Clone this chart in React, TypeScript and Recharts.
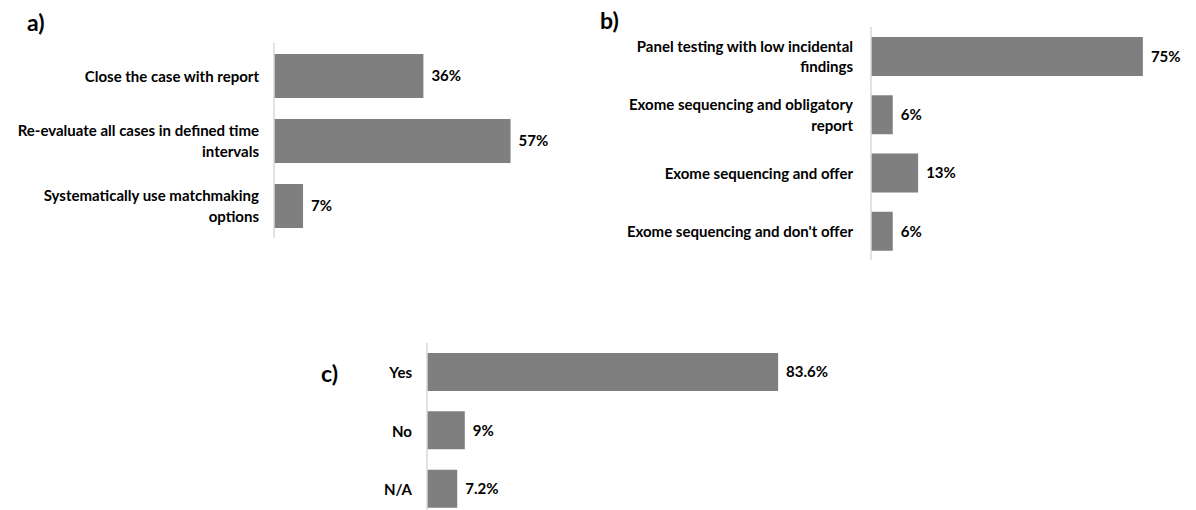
import React from "react";
import { BarChart, Bar, XAxis, YAxis, LabelList } from "recharts";

// Panel a) – what to do with unsolved cases
const aCategories = [
  "Close the case with report",
  "Re-evaluate all cases in defined time\nintervals",
  "Systematically use matchmaking\noptions",
];
const aValues = [36, 57, 7];

// Panel b) – preferred testing strategy
const bCategories = [
  "Panel testing with low incidental\nfindings",
  "Exome sequencing and obligatory\nreport",
  "Exome sequencing and offer",
  "Exome sequencing and don't offer",
];
const bValues = [75, 6, 13, 6];

// Panel c)
const cCategories = ["Yes", "No", "N/A"];
const cValues = [83.6, 9, 7.2];

const FONT = "Lato, 'Open Sans', sans-serif";
const BAR = "#7f7f7f";
const AXIS = "#d9d9d9";

function WrapTick(props: any) {
  const { x, y, payload } = props;
  const lines = String(payload.value).split("\n");
  const lh = 20.5;
  const start = (-(lines.length - 1) * lh) / 2;
  return (
    <text
      x={x}
      y={y}
      textAnchor="end"
      dominantBaseline="central"
      fill="#000"
      fontSize={15}
      fontWeight={700}
      fontFamily={FONT}
    >
      {lines.map((l, i) => (
        <tspan key={i} x={x} dy={i === 0 ? start : lh}>
          {l}
        </tspan>
      ))}
    </text>
  );
}

interface PanelProps {
  categories: string[];
  values: number[];
  left: number;
  top: number;
  width: number;
  height: number;
  axisWidth: number;
  margin: { top: number; right: number; bottom: number; left: number };
  domainMax: number;
  barSize: number;
  gap: number;
}

function Panel(p: PanelProps) {
  const data = p.categories.map((name, i) => ({ name, value: p.values[i] }));
  return (
    <div style={{ position: "absolute", left: p.left, top: p.top }}>
      <BarChart
        width={p.width}
        height={p.height}
        data={data}
        layout="vertical"
        margin={p.margin}
      >
        <XAxis type="number" hide domain={[0, p.domainMax]} />
        <YAxis
          type="category"
          dataKey="name"
          width={p.axisWidth}
          axisLine={{ stroke: AXIS, strokeWidth: 1.5 }}
          tickLine={false}
          tickSize={0}
          tickMargin={p.gap}
          tick={<WrapTick />}
          interval={0}
        />
        <Bar
          dataKey="value"
          fill={BAR}
          barSize={p.barSize}
          isAnimationActive={false}
        >
          <LabelList
            dataKey="value"
            position="right"
            offset={8}
            formatter={(v: any) => `${v}%`}
            style={{
              fill: "#000",
              fontSize: 15,
              fontWeight: 700,
              fontFamily: FONT,
            }}
          />
        </Bar>
      </BarChart>
    </div>
  );
}

const titleStyle: React.CSSProperties = {
  position: "absolute",
  fontFamily: FONT,
  fontSize: 23,
  fontWeight: 700,
  color: "#000",
  lineHeight: "24px",
};

export default function App() {
  return (
    <div
      style={{
        position: "fixed",
        left: 0,
        top: 0,
        width: 1196,
        height: 510,
        overflow: "hidden",
        background: "#fff",
      }}
    >
      <div style={{ ...titleStyle, left: 27, top: 10 }}>a)</div>
      <div style={{ ...titleStyle, left: 600, top: 8 }}>b)</div>
      <div style={{ ...titleStyle, left: 321, top: 361 }}>c)</div>

      <Panel
        categories={aCategories}
        values={aValues}
        left={0}
        top={0}
        width={700}
        height={250}
        axisWidth={274}
        margin={{ top: 43, right: 11, bottom: 12, left: 0 }}
        domainMax={100}
        barSize={44}
        gap={15}
      />
      <Panel
        categories={bCategories}
        values={bValues}
        left={600}
        top={0}
        width={596}
        height={270}
        axisWidth={271}
        margin={{ top: 27, right: 35, bottom: 10, left: 0 }}
        domainMax={80}
        barSize={39}
        gap={18}
      />
      <Panel
        categories={cCategories}
        values={cValues}
        left={300}
        top={330}
        width={560}
        height={190}
        axisWidth={127}
        margin={{ top: 13, right: 13, bottom: 2, left: 0 }}
        domainMax={100}
        barSize={38}
        gap={15}
      />
    </div>
  );
}
